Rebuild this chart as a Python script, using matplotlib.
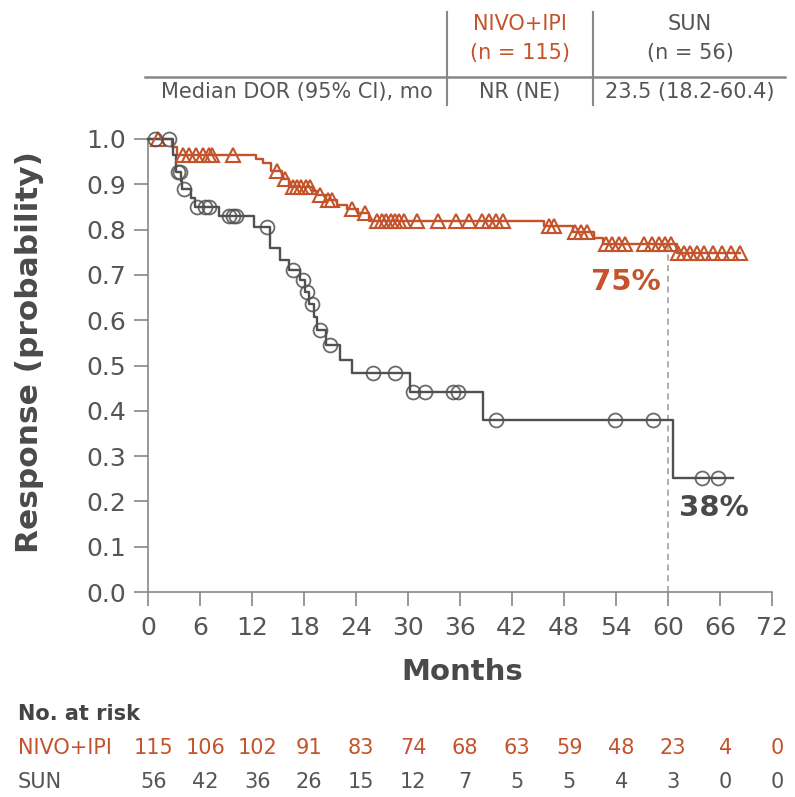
import numpy as np
import matplotlib
matplotlib.use("Agg")
import matplotlib.pyplot as plt
import matplotlib.transforms as mtransforms

plt.rcParams['font.family'] = ['DejaVu Sans']

ORANGE = '#C4532B'
GRAY = '#505050'
TXT = '#555555'

# ---- data ----
nivo_t = [0, 2.8, 3.3, 12.5, 13.3, 14.2, 15.5, 16.3, 19.0, 19.5, 20.5, 21.8, 23.0, 24.2,
          25.5, 45.7, 49.0, 51.5, 52.5, 61.0]
nivo_s = [1.0, 0.982, 0.965, 0.956, 0.947, 0.930, 0.912, 0.895, 0.886, 0.877, 0.866, 0.855,
          0.846, 0.837, 0.820, 0.808, 0.795, 0.782, 0.768, 0.748]
nivo_end = 68.3
nivo_cens = [1.2, 4.0, 4.7, 5.5, 6.3, 7.0, 7.4, 9.8, 14.9, 15.8, 16.7, 17.2, 17.7, 18.2, 18.7,
             19.8, 20.8, 21.2, 23.5, 25.0, 26.4, 27.0, 27.5, 28.0, 28.5, 29.0, 29.5, 31.0,
             33.5, 35.5, 37.0, 38.5, 39.3, 40.2, 41.0, 46.3, 46.8, 49.3, 50.0, 50.7, 52.8,
             53.5, 54.3, 55.0, 57.2, 58.2, 59.0, 59.6, 60.3, 61.2, 61.8, 62.5, 63.3, 64.2,
             65.2, 66.2, 67.3, 68.3]

sun_t = [0, 2.9, 3.2, 3.8, 3.95, 5.0, 5.4, 8.2, 12.2, 14.1, 15.2, 16.3, 17.5, 18.1, 18.6,
         19.2, 19.5, 20.5, 22.1, 23.5, 30.2, 38.6, 60.6]
sun_s = [1.0, 0.964, 0.927, 0.908, 0.889, 0.870, 0.850, 0.829, 0.805, 0.760, 0.733, 0.711,
         0.689, 0.662, 0.636, 0.607, 0.578, 0.545, 0.512, 0.483, 0.441, 0.380, 0.252]
sun_end = 67.5
sun_cens = [0.8, 2.4, 3.5, 3.7, 4.2, 5.6, 6.6, 7.0, 9.3, 9.8, 10.2, 13.7, 16.7, 17.9, 18.3,
            18.9, 19.8, 21.0, 26.0, 28.5, 30.6, 32.0, 35.2, 35.8, 40.2, 53.9, 58.3, 63.9, 65.8]

x_ticks = [0, 6, 12, 18, 24, 30, 36, 42, 48, 54, 60, 66, 72]
y_ticks = [0.0, 0.1, 0.2, 0.3, 0.4, 0.5, 0.6, 0.7, 0.8, 0.9, 1.0]
nivo_risk = [115, 106, 102, 91, 83, 74, 68, 63, 59, 48, 23, 4, 0]
sun_risk = [56, 42, 36, 26, 15, 12, 7, 5, 5, 4, 3, 0, 0]

landmark_t = 60
nivo_land = 0.75
sun_land = 0.38


def level_at(t, ts, ss):
    i = np.searchsorted(ts, t, side='right') - 1
    return ss[i]


W, H = 795, 797
fig = plt.figure(figsize=(W / 100, H / 100), dpi=100)
ax = fig.add_axes([148 / W, 1 - 592 / H, (772 - 148) / W, (592 - 139) / H])
ax.set_xlim(0, 72)
ax.set_ylim(0, 1.0)

# curves
ax.step(nivo_t + [nivo_end], nivo_s + [nivo_s[-1]], where='post', color=ORANGE, lw=1.7,
        clip_on=False, zorder=3)
ax.step(sun_t + [sun_end], sun_s + [sun_s[-1]], where='post', color=GRAY, lw=1.7,
        clip_on=False, zorder=3)

ax.plot(nivo_cens, [level_at(t, nivo_t, nivo_s) for t in nivo_cens], linestyle='none',
        marker='^', ms=9.5, mfc='none', mec=ORANGE, mew=1.5, clip_on=False, zorder=4)
ax.plot(sun_cens, [level_at(t, sun_t, sun_s) for t in sun_cens], linestyle='none',
        marker='o', ms=10, mfc='none', mec=GRAY, mew=1.3, alpha=0.85, clip_on=False, zorder=4)

# landmark line
ax.plot([landmark_t, landmark_t], [0, level_at(landmark_t, nivo_t, nivo_s)], ls=(0, (4, 3)),
        color='#999999', lw=1.1, zorder=2)
ax.text(landmark_t - 0.8, 0.685, f'{int(nivo_land*100)}%', color=ORANGE, fontsize=21,
        fontweight='bold', ha='right', va='center')
ax.text(landmark_t + 1.3, 0.185, f'{int(sun_land*100)}%', color='#4a4a4a', fontsize=21,
        fontweight='bold', ha='left', va='center')

# axes styling
for s in ['top', 'right']:
    ax.spines[s].set_visible(False)
for s in ['left', 'bottom']:
    ax.spines[s].set_color('#888888')
    ax.spines[s].set_linewidth(1.2)
ax.set_xticks(x_ticks)
ax.set_yticks(y_ticks)
ax.set_yticklabels([f'{v:.1f}' for v in y_ticks])
ax.tick_params(axis='both', direction='out', length=10, width=1.2, color='#888888',
               labelsize=18, labelcolor=TXT)
ax.tick_params(axis='x', pad=7)
ax.tick_params(axis='y', pad=6)
fig.text(462 / W, 1 - 672 / H, 'Months', fontsize=21, fontweight='bold', color='#4a4a4a',
         ha='center', va='center')
fig.text(30 / W, 1 - 352 / H, 'Response (probability)', fontsize=22.5, fontweight='bold',
         color='#4a4a4a', rotation=90, ha='center', va='center')

# top table
FS = 15
line_y = 1 - 77 / H
fig.add_artist(plt.Line2D([145 / W, 785 / W], [line_y, line_y], color='#888888', lw=1.8))
for xp in [447, 593]:
    fig.add_artist(plt.Line2D([xp / W, xp / W], [1 - 12 / H, 1 - 105 / H], color='#888888',
                              lw=1.5))
fig.text(520 / W, 1 - 24 / H, 'NIVO+IPI', color=ORANGE, fontsize=FS, ha='center', va='center')
fig.text(520 / W, 1 - 53 / H, '(n = 115)', color=ORANGE, fontsize=FS, ha='center', va='center')
fig.text(690 / W, 1 - 24 / H, 'SUN', color=TXT, fontsize=FS, ha='center', va='center')
fig.text(690 / W, 1 - 53 / H, '(n = 56)', color=TXT, fontsize=FS, ha='center', va='center')
fig.text(433 / W, 1 - 92 / H, 'Median DOR (95% CI), mo', color=TXT, fontsize=FS, ha='right',
         va='center')
fig.text(520 / W, 1 - 92 / H, 'NR (NE)', color=TXT, fontsize=FS, ha='center', va='center')
fig.text(690 / W, 1 - 92 / H, '23.5 (18.2-60.4)', color=TXT, fontsize=FS, ha='center',
         va='center')

# risk table
trans = mtransforms.blended_transform_factory(ax.transData, fig.transFigure)
fig.text(18 / W, 1 - 714 / H, 'No. at risk', color='#444444', fontsize=FS, fontweight='bold',
         ha='left', va='center')
fig.text(18 / W, 1 - 748 / H, 'NIVO+IPI', color=ORANGE, fontsize=FS, ha='left', va='center')
fig.text(18 / W, 1 - 782 / H, 'SUN', color=TXT, fontsize=FS, ha='left', va='center')
for xt, n1, n2 in zip(x_ticks, nivo_risk, sun_risk):
    ax.text(xt + 0.6, 1 - 748 / H, str(n1), transform=trans, color=ORANGE, fontsize=FS,
            ha='center', va='center')
    ax.text(xt + 0.6, 1 - 782 / H, str(n2), transform=trans, color=TXT, fontsize=FS,
            ha='center', va='center')

fig.savefig('out.png', dpi=100)
